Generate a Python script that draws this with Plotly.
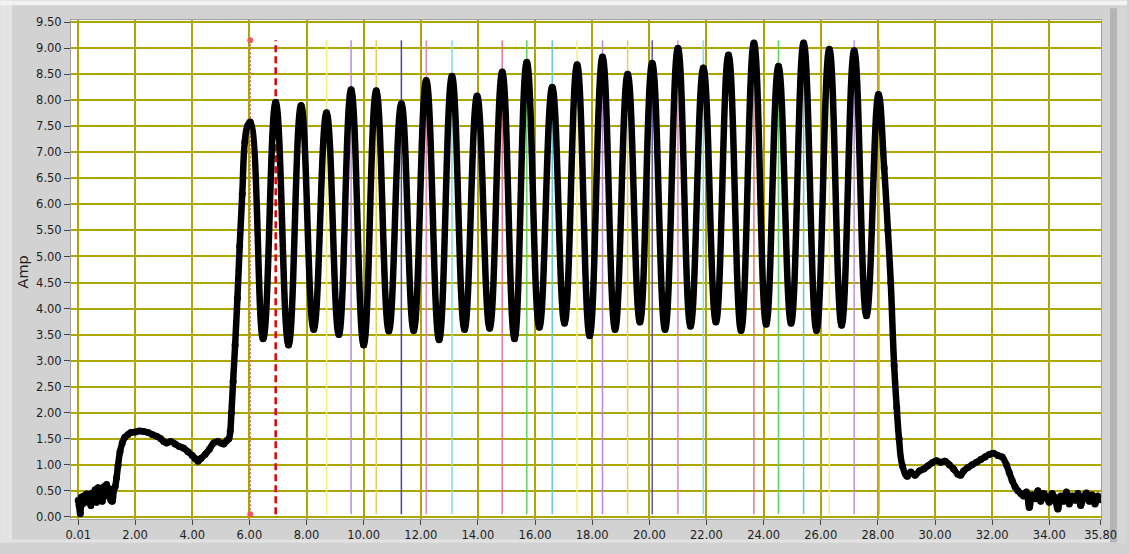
import plotly.graph_objects as go

# ------------------------------------------------------------------ data
# baseline before the burst (time, amplitude)
lead_time = [0.01, 0.04, 0.08, 0.12, 0.16, 0.20, 0.25, 0.30, 0.35, 0.40, 0.45, 0.50,
             0.55, 0.60, 0.65, 0.70, 0.75, 0.80, 0.85, 0.90, 0.95, 1.00, 1.05, 1.10,
             1.15, 1.20, 1.25, 1.30, 1.35, 1.40, 1.47, 1.55, 1.64, 1.75, 1.85, 2.00,
             2.15, 2.30, 2.45, 2.60, 2.75, 2.90, 3.00, 3.10, 3.25, 3.40, 3.55, 3.70,
             3.85, 4.00, 4.10, 4.20, 4.30, 4.45, 4.60, 4.75, 4.90, 5.00, 5.10, 5.20,
             5.28, 5.33, 5.37, 5.43, 5.50, 5.58, 5.66, 5.75, 5.84, 5.93]
lead_amp = [0.32, 0.22, 0.06, 0.38, 0.25, 0.40, 0.28, 0.44, 0.30, 0.40, 0.22, 0.46,
            0.34, 0.52, 0.28, 0.56, 0.38, 0.50, 0.30, 0.58, 0.44, 0.62, 0.40, 0.54,
            0.32, 0.30, 0.50, 0.58, 0.75, 0.98, 1.25, 1.42, 1.53, 1.58, 1.62, 1.63,
            1.65, 1.64, 1.62, 1.58, 1.55, 1.50, 1.45, 1.42, 1.45, 1.40, 1.35, 1.32,
            1.25, 1.18, 1.12, 1.07, 1.12, 1.20, 1.30, 1.42, 1.45, 1.42, 1.40, 1.46,
            1.50, 1.65, 2.00, 2.60, 3.30, 4.20, 5.20, 6.20, 7.20, 7.50]

# oscillation peaks and troughs
peak_time = [6.03, 6.92, 7.81, 8.70, 9.56, 10.44, 11.32, 12.19, 13.09, 13.97, 14.85,
             15.71, 16.60, 17.47, 18.36, 19.24, 20.10, 21.00, 21.89, 22.77, 23.66,
             24.52, 25.40, 26.30, 27.17, 28.02]
peak_amp = [7.58, 7.96, 7.90, 7.76, 8.20, 8.18, 7.93, 8.38, 8.46, 8.08, 8.54,
            8.73, 8.25, 8.68, 8.83, 8.50, 8.71, 9.00, 8.62, 8.87, 9.10,
            8.65, 9.10, 8.98, 8.95, 8.11]
trough_time = [6.48, 7.37, 8.25, 9.13, 10.00, 10.88, 11.75, 12.64, 13.53, 14.41,
               15.28, 16.15, 17.03, 17.91, 18.80, 19.67, 20.55, 21.44, 22.33, 23.21,
               24.09, 24.96, 25.85, 26.73, 27.60]
trough_amp = [3.42, 3.30, 3.60, 3.50, 3.30, 3.57, 3.58, 3.40, 3.60, 3.62,
              3.42, 3.64, 3.72, 3.48, 3.60, 3.74, 3.60, 3.66, 3.74, 3.58,
              3.70, 3.72, 3.58, 3.68, 3.86]

# fall and baseline after the burst
tail_time = [28.22, 28.35, 28.45, 28.57, 28.66, 28.74, 28.86, 29.03, 29.15, 29.30,
             29.45, 29.60, 29.75, 29.90, 30.05, 30.20, 30.35, 30.50, 30.65, 30.80,
             30.90, 31.00, 31.15, 31.30, 31.45, 31.60, 31.75, 31.90, 32.05, 32.20,
             32.35, 32.50, 32.60, 32.70, 32.80, 32.90, 33.00, 33.10, 33.20, 33.30,
             33.40, 33.50, 33.60, 33.70, 33.80, 33.90, 34.00, 34.10, 34.20, 34.30,
             34.40, 34.50, 34.60, 34.70, 34.80, 34.90, 35.00, 35.10, 35.20, 35.30,
             35.40, 35.50, 35.60, 35.70, 35.80]
tail_amp = [6.70, 5.50, 4.50, 2.90, 2.10, 1.50, 0.98, 0.78, 0.86, 0.80,
            0.88, 0.92, 0.98, 1.04, 1.08, 1.05, 1.07, 1.00, 0.92, 0.82,
            0.80, 0.88, 0.95, 1.00, 1.05, 1.10, 1.15, 1.20, 1.22, 1.18,
            1.15, 1.00, 0.85, 0.70, 0.58, 0.50, 0.45, 0.40, 0.48, 0.18,
            0.42, 0.35, 0.50, 0.30, 0.45, 0.38, 0.28, 0.45, 0.35, 0.15,
            0.40, 0.30, 0.48, 0.25, 0.40, 0.32, 0.45, 0.22, 0.38, 0.46,
            0.30, 0.42, 0.25, 0.40, 0.33]

# cursor lines
cursor_time = [6.03, 6.92, 8.70, 9.56, 10.44, 11.32, 12.19, 13.09, 14.85, 15.71,
               16.60, 17.47, 18.36, 19.24, 20.10, 21.00, 21.89, 23.66, 24.52,
               25.40, 26.30, 27.17, 28.05]
cursor_low = 0.05
cursor_high = 9.15

# tick labels
x_tick_vals = [0.01, 2, 4, 6, 8, 10, 12, 14, 16, 18, 20, 22, 24, 26, 28, 30, 32, 34, 35.8]
x_tick_text = ["0.01", "2.00", "4.00", "6.00", "8.00", "10.00", "12.00", "14.00",
               "16.00", "18.00", "20.00", "22.00", "24.00", "26.00", "28.00",
               "30.00", "32.00", "34.00", "35.80"]
y_tick_vals = [0, 0.5, 1, 1.5, 2, 2.5, 3, 3.5, 4, 4.5, 5, 5.5, 6, 6.5, 7, 7.5, 8,
               8.5, 9, 9.5]
y_tick_text = ["0.00", "0.50", "1.00", "1.50", "2.00", "2.50", "3.00", "3.50",
               "4.00", "4.50", "5.00", "5.50", "6.00", "6.50", "7.00", "7.50",
               "8.00", "8.50", "9.00", "9.50"]

# ------------------------------------------------------------------ styles
cursor_styles = [
    dict(color="#d86a55", dash="2px,2px", width=1.5),
    dict(color="#e00000", dash="7px,4px", width=2.5),
    dict(color="#eeee80", dash="solid", width=1.5),
    dict(color="#c488e0", dash="solid", width=1.5),
    dict(color="#e6d24a", dash="solid", width=1.5),
    dict(color="#4a4a9a", dash="solid", width=1.5),
    dict(color="#e586b8", dash="solid", width=1.5),
    dict(color="#74e4e4", dash="solid", width=1.5),
    dict(color="#e27a92", dash="solid", width=1.5),
    dict(color="#5ed45e", dash="solid", width=1.5),
    dict(color="#64c8e4", dash="solid", width=1.5),
    dict(color="#f2f27a", dash="solid", width=1.5),
    dict(color="#b884e0", dash="solid", width=1.5),
    dict(color="#e8d050", dash="solid", width=1.5),
    dict(color="#5a5aa0", dash="solid", width=1.5),
    dict(color="#e484c4", dash="solid", width=1.5),
    dict(color="#74e4e4", dash="solid", width=1.5),
    dict(color="#e27a86", dash="solid", width=1.5),
    dict(color="#5ed45e", dash="solid", width=1.5),
    dict(color="#64c4e4", dash="solid", width=1.5),
    dict(color="#f0f070", dash="solid", width=1.5),
    dict(color="#c092e2", dash="solid", width=1.5),
    dict(color="#e0c040", dash="solid", width=1.5),
]

# ------------------------------------------------------------------ assemble series
time = list(lead_time)
amp = list(lead_amp)
for i in range(len(peak_time)):
    time.append(peak_time[i])
    amp.append(peak_amp[i])
    if i < len(trough_time):
        time.append(trough_time[i])
        amp.append(trough_amp[i])
time += tail_time
amp += tail_amp

fig = go.Figure()

for i, t in enumerate(cursor_time):
    st = cursor_styles[i]
    fig.add_trace(go.Scatter(
        x=[t, t], y=[cursor_low, cursor_high],
        mode="lines+markers" if i == 0 else "lines",
        line=dict(color=st["color"], width=st["width"], dash=st["dash"]),
        marker=dict(color="#f05a5a", size=6),
        hoverinfo="skip", showlegend=False))

fig.add_trace(go.Scatter(
    x=time, y=amp, mode="lines+markers",
    line=dict(color="#000000", width=6.5, shape="spline", smoothing=1.3),
    marker=dict(color="#000000", size=7),
    showlegend=False, name="Amp"))

# ------------------------------------------------------------------ layout
L, R, T, B = 71, 26, 20, 24
W, H = 1129, 554
pw, ph = W - L - R, H - T - B


def px(xp):
    return (xp - L) / pw


def py(yp):
    return (H - B - yp) / ph


shapes = [
    # light outer strip on the left
    dict(type="rect", xref="paper", yref="paper", x0=px(0), x1=px(12), y0=py(H), y1=py(0),
         fillcolor="#e4e4e4", line=dict(width=0), layer="below"),
    # top white strip
    dict(type="rect", xref="paper", yref="paper", x0=px(0), x1=px(W), y0=py(5), y1=py(0),
         fillcolor="#f2f2f2", line=dict(width=0), layer="below"),
    # bottom light strip
    dict(type="rect", xref="paper", yref="paper", x0=px(0), x1=px(W), y0=py(H), y1=py(551),
         fillcolor="#e2e2e2", line=dict(width=0), layer="below"),
    # right bezel
    dict(type="rect", xref="paper", yref="paper", x0=px(1112), x1=px(1119), y0=py(H), y1=py(8),
         fillcolor="#b4b4b4", line=dict(width=0), layer="below"),
    dict(type="rect", xref="paper", yref="paper", x0=px(1119), x1=px(W), y0=py(H), y1=py(8),
         fillcolor="#d6d6d6", line=dict(width=0), layer="below"),
]

fig.update_layout(
    width=W, height=H,
    margin=dict(l=L, r=R, t=T, b=B, pad=0),
    paper_bgcolor="#d2d2d2",
    plot_bgcolor="#ffffff",
    font=dict(family="DejaVu Sans", size=11.5, color="#1e1e1e"),
    showlegend=False,
    shapes=shapes,
    annotations=[dict(text="Amp", xref="paper", yref="paper", x=px(23), y=py(278),
                      xanchor="center", yanchor="middle", textangle=-90, showarrow=False,
                      font=dict(family="DejaVu Sans", size=14.5, color="#1e1e1e"))],
    xaxis=dict(range=[-0.245, 35.81], tickmode="array", tickvals=x_tick_vals,
               ticktext=x_tick_text, showgrid=True, gridcolor="#aea600", gridwidth=1.6,
               zeroline=False, ticks="outside", ticklen=5, tickcolor="#444444",
               showline=True, linecolor="#a0a0a0", linewidth=1, mirror=True),
    yaxis=dict(range=[-0.04, 9.54], tickmode="array", tickvals=y_tick_vals,
               ticktext=y_tick_text, showgrid=True, gridcolor="#aea600", gridwidth=1.6,
               zeroline=False, ticks="outside", ticklen=6, tickcolor="#444444",
               showline=True, linecolor="#a0a0a0", linewidth=1, mirror=True),
)

fig.write_html("out.html")
